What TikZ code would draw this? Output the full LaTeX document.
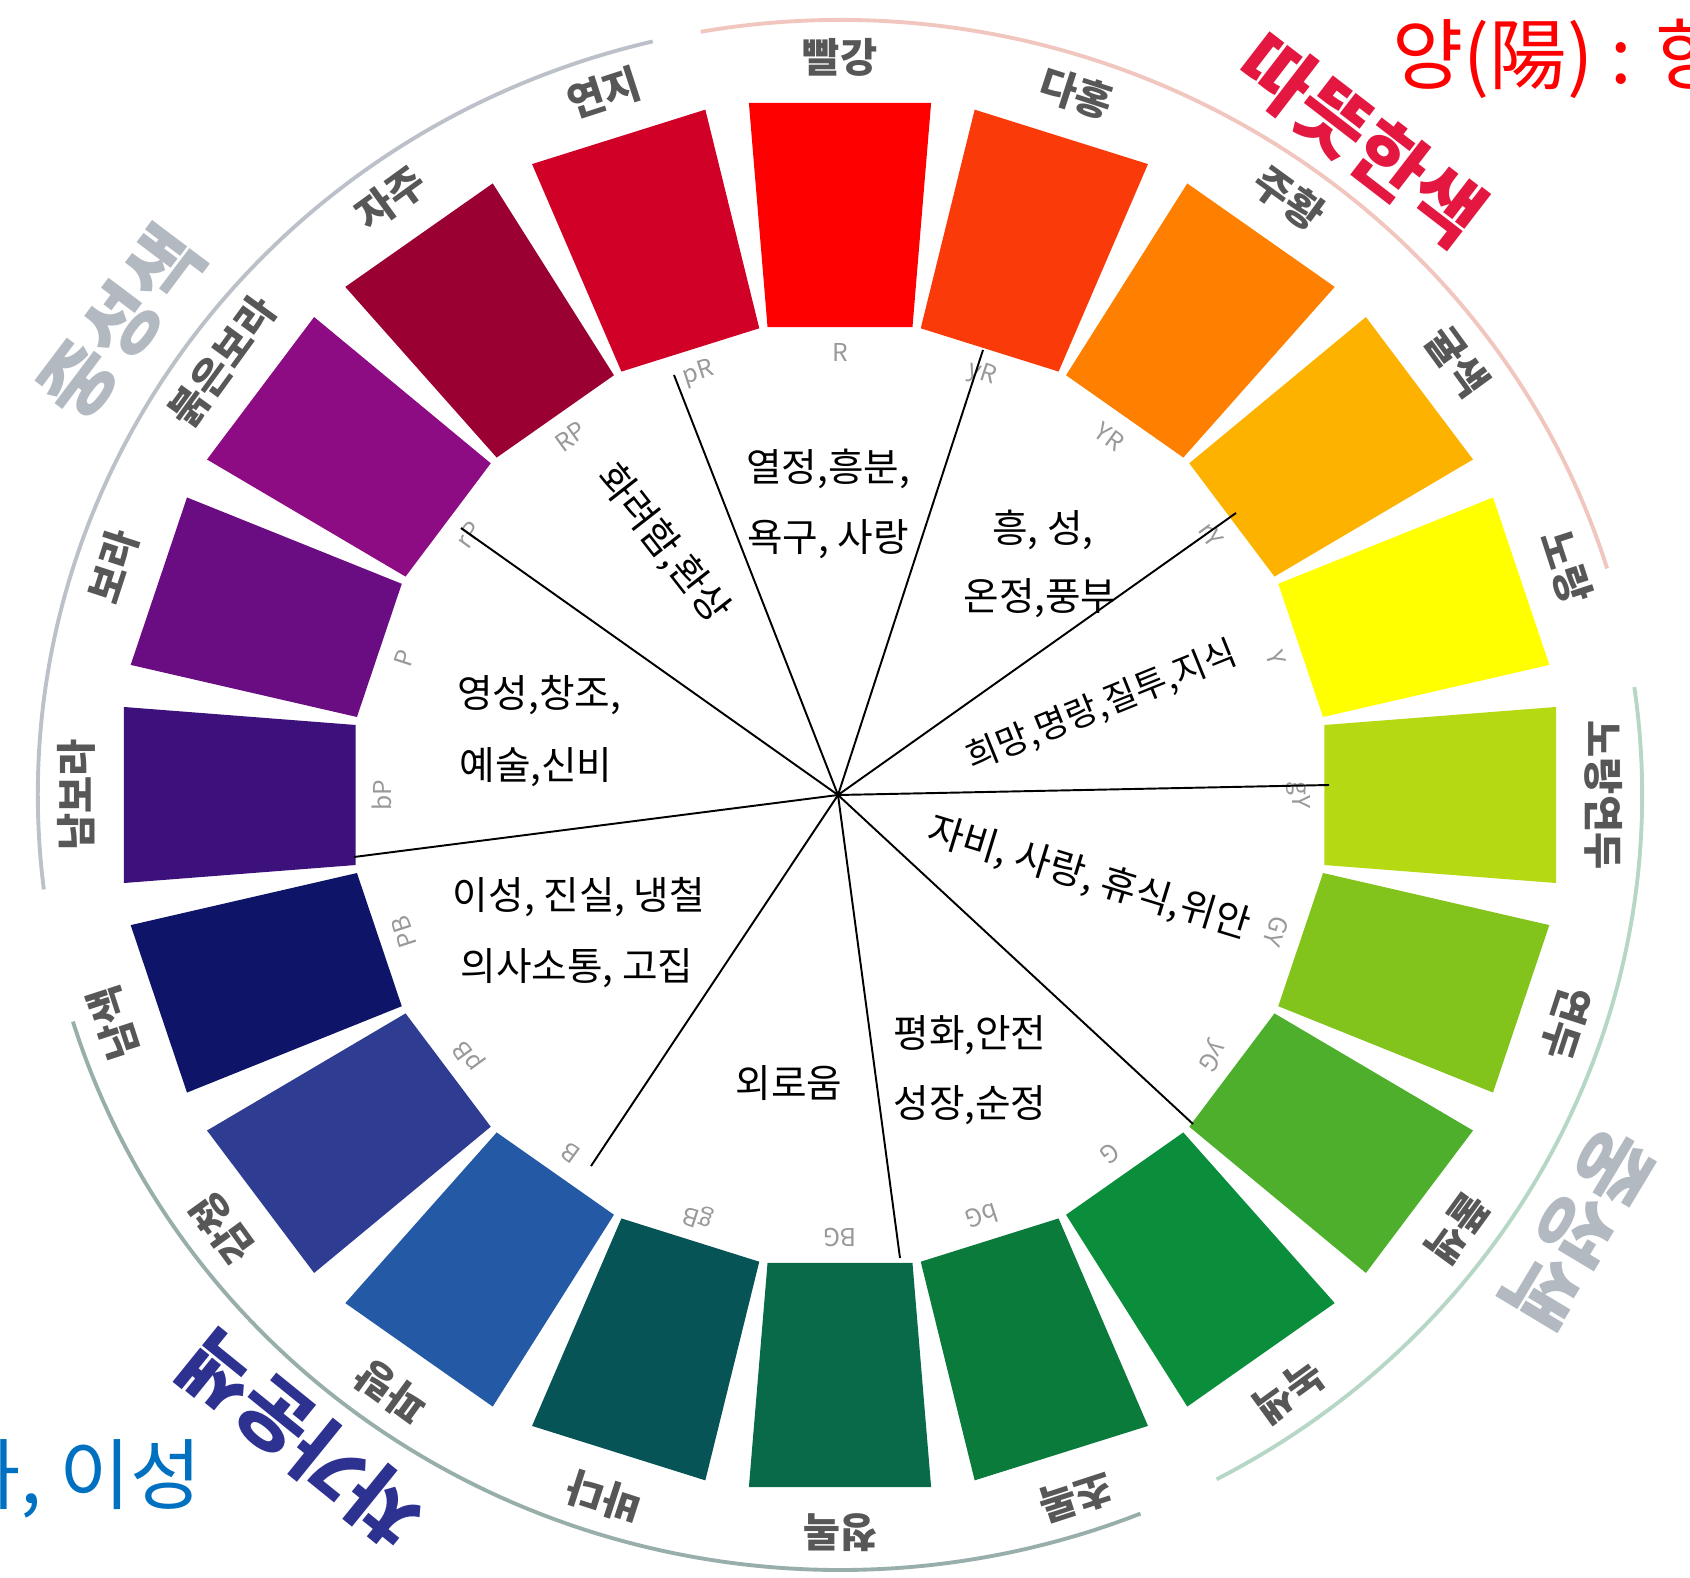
\documentclass[tikz,border=0pt]{standalone}
\usepackage{fontspec}
\setmainfont{Noto Sans CJK KR}

\definecolor{hR}{HTML}{FE0000}
\definecolor{hyR}{HTML}{FB3A0A}
\definecolor{hYR}{HTML}{FF8000}
\definecolor{hrY}{HTML}{FDB200}
\definecolor{hY}{HTML}{FFFF00}
\definecolor{hgY}{HTML}{B5D912}
\definecolor{hGY}{HTML}{82C31C}
\definecolor{hyG}{HTML}{4DAF2B}
\definecolor{hG}{HTML}{0A8E3B}
\definecolor{hbG}{HTML}{0A7B3B}
\definecolor{hBG}{HTML}{086A48}
\definecolor{hgB}{HTML}{065456}
\definecolor{hB}{HTML}{2459A6}
\definecolor{hpB}{HTML}{2E3D92}
\definecolor{hPB}{HTML}{0E1467}
\definecolor{hbP}{HTML}{3D117B}
\definecolor{hP}{HTML}{6A0C82}
\definecolor{hrP}{HTML}{8D0B83}
\definecolor{hRP}{HTML}{9B0033}
\definecolor{hpR}{HTML}{D10027}
\definecolor{warmred}{HTML}{E3173F}
\definecolor{warmarc}{HTML}{F0C6BE}
\definecolor{neutralgray}{HTML}{B3B9C1}
\definecolor{neutralarc}{HTML}{BCC0C8}
\definecolor{greenarc}{HTML}{B6D6C6}
\definecolor{coolnavy}{HTML}{2D3190}
\definecolor{coolarc}{HTML}{98AEAA}
\definecolor{yangred}{HTML}{FF0000}
\definecolor{yinblue}{HTML}{0070C0}

\begin{document}
\begin{tikzpicture}[x=0.1mm,y=-0.1mm,
	huelabel/.style={font=\bfseries\fontsize{11.5}{13}\selectfont,text=black!66},
	huecode/.style={font=\fontsize{7}{8}\selectfont,text=black!40},
	mood/.style={font=\fontsize{11}{13}\selectfont},
	bigword/.style={font=\bfseries\fontsize{22}{26}\selectfont},
	groundarc/.style={line width=1.1pt},
	spoke/.style={line width=0.55pt}]
	\useasboundingbox (0,0) rectangle (1690,1578);
	\begin{scope}[shift={(840,795)},yscale=-1,xscale=1.035]
	\fill[hR] ({90+8.51}:473.2) -- ({90-8.51}:473.2) -- ({90-7.25}:697.6) -- ({90+7.25}:697.6) -- cycle;
	\fill[hyR] ({72+8.51}:473.2) -- ({72-8.51}:473.2) -- ({72-7.25}:697.6) -- ({72+7.25}:697.6) -- cycle;
	\fill[hYR] ({54+8.51}:473.2) -- ({54-8.51}:473.2) -- ({54-7.25}:697.6) -- ({54+7.25}:697.6) -- cycle;
	\fill[hrY] ({36+8.51}:473.2) -- ({36-8.51}:473.2) -- ({36-7.25}:697.6) -- ({36+7.25}:697.6) -- cycle;
	\fill[hY] ({18+8.51}:473.2) -- ({18-8.51}:473.2) -- ({18-7.25}:697.6) -- ({18+7.25}:697.6) -- cycle;
	\fill[hgY] ({0+8.51}:473.2) -- ({0-8.51}:473.2) -- ({0-7.25}:697.6) -- ({0+7.25}:697.6) -- cycle;
	\fill[hGY] ({-18+8.51}:473.2) -- ({-18-8.51}:473.2) -- ({-18-7.25}:697.6) -- ({-18+7.25}:697.6) -- cycle;
	\fill[hyG] ({-36+8.51}:473.2) -- ({-36-8.51}:473.2) -- ({-36-7.25}:697.6) -- ({-36+7.25}:697.6) -- cycle;
	\fill[hG] ({-54+8.51}:473.2) -- ({-54-8.51}:473.2) -- ({-54-7.25}:697.6) -- ({-54+7.25}:697.6) -- cycle;
	\fill[hbG] ({-72+8.51}:473.2) -- ({-72-8.51}:473.2) -- ({-72-7.25}:697.6) -- ({-72+7.25}:697.6) -- cycle;
	\fill[hBG] ({-90+8.51}:473.2) -- ({-90-8.51}:473.2) -- ({-90-7.25}:697.6) -- ({-90+7.25}:697.6) -- cycle;
	\fill[hgB] ({-108+8.51}:473.2) -- ({-108-8.51}:473.2) -- ({-108-7.25}:697.6) -- ({-108+7.25}:697.6) -- cycle;
	\fill[hB] ({-126+8.51}:473.2) -- ({-126-8.51}:473.2) -- ({-126-7.25}:697.6) -- ({-126+7.25}:697.6) -- cycle;
	\fill[hpB] ({-144+8.51}:473.2) -- ({-144-8.51}:473.2) -- ({-144-7.25}:697.6) -- ({-144+7.25}:697.6) -- cycle;
	\fill[hPB] ({-162+8.51}:473.2) -- ({-162-8.51}:473.2) -- ({-162-7.25}:697.6) -- ({-162+7.25}:697.6) -- cycle;
	\fill[hbP] ({180+8.51}:473.2) -- ({180-8.51}:473.2) -- ({180-7.25}:697.6) -- ({180+7.25}:697.6) -- cycle;
	\fill[hP] ({162+8.51}:473.2) -- ({162-8.51}:473.2) -- ({162-7.25}:697.6) -- ({162+7.25}:697.6) -- cycle;
	\fill[hrP] ({144+8.51}:473.2) -- ({144-8.51}:473.2) -- ({144-7.25}:697.6) -- ({144+7.25}:697.6) -- cycle;
	\fill[hRP] ({126+8.51}:473.2) -- ({126-8.51}:473.2) -- ({126-7.25}:697.6) -- ({126+7.25}:697.6) -- cycle;
	\fill[hpR] ({108+8.51}:473.2) -- ({108-8.51}:473.2) -- ({108-7.25}:697.6) -- ({108+7.25}:697.6) -- cycle;
	% hue names round the outside
	\node[huelabel] (lR) at (90:738) {빨강};
	\node[huelabel,rotate=-18] (lyR) at (72:738) {다홍};
	\node[huelabel,rotate=-36] (lYR) at (54:738) {주황};
	\node[huelabel,rotate=-54] (lrY) at (36:738) {귤색};
	\node[huelabel,rotate=-72] (lY) at (18:738) {노랑};
	\node[huelabel,rotate=-90] (lgY) at (0:738) {노랑연두};
	\node[huelabel,rotate=-108] (lGY) at (-18:738) {연두};
	\node[huelabel,rotate=-126] (lyG) at (-36:738) {풀색};
	\node[huelabel,rotate=-144] (lG) at (-54:738) {녹색};
	\node[huelabel,rotate=-162] (lbG) at (-72:738) {초록};
	\node[huelabel,rotate=-180] (lBG) at (-90:738) {청록};
	\node[huelabel,rotate=-198] (lgB) at (-108:738) {바다};
	\node[huelabel,rotate=-216] (lB) at (-126:738) {파랑};
	\node[huelabel,rotate=-234] (lpB) at (-144:738) {감청};
	\node[huelabel,rotate=-252] (lPB) at (-162:738) {남색};
	\node[huelabel,rotate=90] (lbP) at (180:738) {남보라};
	\node[huelabel,rotate=72] (lP) at (162:738) {보라};
	\node[huelabel,rotate=54] (lrP) at (144:738) {붉은보라};
	\node[huelabel,rotate=36] (lRP) at (126:738) {자주};
	\node[huelabel,rotate=18] (lpR) at (108:738) {연지};
	% hue codes inside
	\node[huecode] (cR) at (90:443) {R};
	\node[huecode,rotate=-18] (cyR) at (72:443) {yR};
	\node[huecode,rotate=-36] (cYR) at (54:443) {YR};
	\node[huecode,rotate=-54] (crY) at (36:443) {rY};
	\node[huecode,rotate=-72] (cY) at (18:443) {Y};
	\node[huecode,rotate=-90] (cgY) at (0:443) {gY};
	\node[huecode,rotate=-108] (cGY) at (-18:443) {GY};
	\node[huecode,rotate=-126] (cyG) at (-36:443) {yG};
	\node[huecode,rotate=-144] (cG) at (-54:443) {G};
	\node[huecode,rotate=-162] (cbG) at (-72:443) {bG};
	\node[huecode,rotate=-180] (cBG) at (-90:443) {BG};
	\node[huecode,rotate=-198] (cgB) at (-108:443) {gB};
	\node[huecode,rotate=-216] (cB) at (-126:443) {B};
	\node[huecode,rotate=-234] (cpB) at (-144:443) {pB};
	\node[huecode,rotate=-252] (cPB) at (-162:443) {PB};
	\node[huecode,rotate=90] (cbP) at (180:443) {bP};
	\node[huecode,rotate=72] (cP) at (162:443) {P};
	\node[huecode,rotate=54] (crP) at (144:443) {rP};
	\node[huecode,rotate=36] (cRP) at (126:443) {RP};
	\node[huecode,rotate=18] (cpR) at (108:443) {pR};
	% group arcs and names
	\draw[groundarc,warmarc] (100:775) arc[start angle=100,end angle=17,radius=775];
	\draw[groundarc,greenarc] (8:775) arc[start angle=8,end angle=-62,radius=775];
	\draw[groundarc,coolarc] (-68:775) arc[start angle=-68,end angle=-163,radius=775];
	\draw[groundarc,neutralarc] (187:775) arc[start angle=187,end angle=103.5,radius=775];
	\node[bigword,text=warmred,rotate=-37.6] (warm) at (52.4:827) {따뜻한색};
	\node[bigword,text=neutralgray,rotate=53] (neutralA) at (145.8:840) {중성색};
	\node[bigword,text=neutralgray,rotate=-121] (neutralB) at (-31.3:835) {중성색};
	\node[bigword,text=coolnavy,rotate=141] (cool) at (-128.9:828) {차가운색};
	\end{scope}
	% moods in each sector
	\node[mood] (passion) at (828,469) {열정,흥분,};
	\node[mood] (desire) at (828,539) {욕구, 사랑};
	\node[mood] (joy) at (1043,530) {흥, 성,};
	\node[mood] (warmth) at (1040,598) {온정,풍부};
	\node[mood,font=\fontsize{10}{12}\selectfont,rotate=22] (hope) at (1102,706) {희망,명랑,질투,지식};
	\node[mood,rotate=-17] (mercy) at (1089,878) {자비, 사랑, 휴식,위안};
	\node[mood] (peace) at (970,1035) {평화,안전};
	\node[mood] (growth) at (970,1105) {성장,순정};
	\node[mood] (lonely) at (789,1083) {외로움};
	\node[mood] (reason) at (579,897) {이성, 진실, 냉철};
	\node[mood] (talk) at (577,968) {의사소통, 고집};
	\node[mood] (spirit) at (539,695) {영성,창조,};
	\node[mood] (art) at (536,767) {예술,신비};
	\node[mood,rotate=-52] (glamour) at (663,544) {화려함,환상};
	% spokes from the hub
	\coordinate (hub) at (838,795);
	\coordinate (s1) at (674,375);
	\coordinate (s2) at (983,350);
	\coordinate (s3) at (1236,513);
	\coordinate (s4) at (1329,785);
	\coordinate (s5) at (1193,1124);
	\coordinate (s6) at (900,1258);
	\coordinate (s7) at (591,1166);
	\coordinate (s8) at (354,857);
	\coordinate (s9) at (461,528);
	\draw[spoke] (hub) -- (s1);
	\draw[spoke] (hub) -- (s2);
	\draw[spoke] (hub) -- (s3);
	\draw[spoke] (hub) -- (s4);
	\draw[spoke] (hub) -- (s5);
	\draw[spoke] (hub) -- (s6);
	\draw[spoke] (hub) -- (s7);
	\draw[spoke] (hub) -- (s8);
	\draw[spoke] (hub) -- (s9);
	% yin and yang notes, cut by the edge
	\node[bigword,font=\fontsize{22}{26}\selectfont,text=yangred,anchor=west] (yang) at (1380,59) {양(陽) : 향};
	\node[bigword,font=\fontsize{22}{26}\selectfont,text=yinblue,anchor=east] (yin) at (214,1479) {하, 이성};
\end{tikzpicture}
\end{document}
